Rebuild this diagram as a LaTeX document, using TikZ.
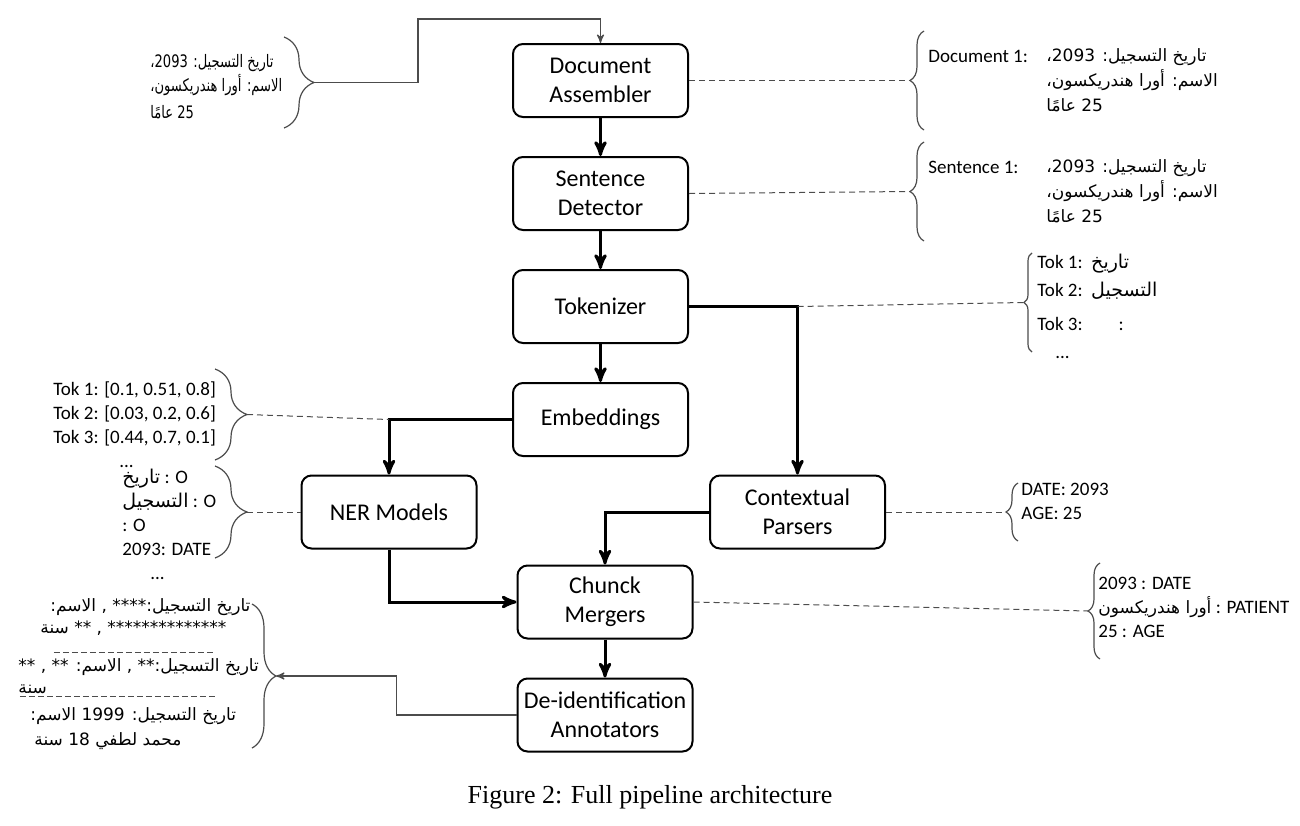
\documentclass[tikz,border=0pt]{standalone}
\usepackage{fontspec}
\setmainfont{Carlito}
\newfontfamily\arabicfont[Script=Arabic]{DejaVu Sans}
\newfontfamily\arabicnarrow[Script=Arabic, FakeStretch=0.76]{DejaVu Sans}
\newfontfamily\captionfont{Liberation Serif}
\TeXXeTstate=1
\setlength{\lineskiplimit}{-20pt}
\usetikzlibrary{arrows,calc,positioning,decorations.pathreplacing}
\newcommand{\rtl}[1]{{\beginR #1\endR}}
\newcommand{\ar}[1]{{\arabicfont #1}}
\newcommand{\sepline}[1]{\hbox to #1{\color{black!70}\leaders\hbox to 4.5pt{\hss\rule[-2pt]{3pt}{0.45pt}\hss}\hfill}}
\tikzset{
  stage/.style = {draw, rounded corners=5pt, line width=1pt, minimum width=87.5pt,
  minimum height=36.5pt, align=center, inner sep=1pt, font=\fontsize{12}{14.5}\selectfont},
  flow/.style = {->, >=stealth', line width=1.5pt},
  feed/.style = {->, >=stealth', line width=0.6pt, draw=black!70},
  link/.style = {dash pattern=on 3pt off 2pt, line width=0.5pt, draw=black!70},
  brc/.style = {decorate, decoration={brace, amplitude=#1}, line width=0.6pt, draw=black!70},
  note/.style = {align=left, inner sep=0pt, font=\fontsize{9.5}{12}\selectfont},
  arnote/.style = {align=left, inner sep=0pt, font=\arabicfont\fontsize{8.5}{12.5}\selectfont}
}

\begin{document}
\begin{tikzpicture}[x=0.5pt, y=-0.5pt]
  \useasboundingbox (0,0) rectangle (1300,825);

  % pipeline stages
  \node[stage] (doc) at (600.5,80.5) {Document\\Assembler};
  \node[stage, below=19pt of doc] (sent) {Sentence\\Detector};
  \node[stage, below=19pt of sent] (tok) {Tokenizer};
  \node[stage, below=19pt of tok] (emb) {Embeddings};
  \node[stage] (ner) at (389,512) {NER Models};
  \node[stage] (ctx) at (797.5,512) {Contextual\\Parsers};
  \node[stage] (chunk) at (605,602) {Chunck\\Mergers};
  \node[stage, below=19pt of chunk] (deid) {De-identification\\Annotators};

  \draw[flow] (doc) -- (sent);
  \draw[flow] (sent) -- (tok);
  \draw[flow] (tok) -- (emb);
  \draw[flow] (emb.west) -| (ner.north);
  \draw[flow] (tok.east) -| (ctx.north);
  \draw[flow] (ctx.west) -| (chunk.north);
  \draw[flow] (ner.south) |- (chunk.west);
  \draw[flow] (chunk) -- (deid);

  % input text
  \node[arnote, anchor=north west, font=\arabicnarrow\fontsize{8.6}{12}\selectfont] (inTxt) at (150,54)
    {\rtl{تاريخ التسجيل: 2093،}\\\rtl{الاسم: أورا هندريكسون،}\\[1.5pt]\rtl{25 عامًا}};
  \draw[brc=15pt] (284,37) -- (284,128);
  \coordinate (inTip) at (314,82.5);
  \draw[feed] (inTip) -- ++(104,0) |- ([yshift=12pt]doc.north) -- (doc.north);

  % document
  \node[note, anchor=west] (docLbl) at (928,56) {Document 1:};
  \node[arnote, anchor=north west] (docTxt) at (1046,48)
    {\rtl{تاريخ التسجيل: 2093،}\\\rtl{الاسم: أورا هندريكسون،}\\\rtl{25 عامًا}};
  \draw[brc=7pt] (924,130) -- (924,31);
  \coordinate (docTip) at (910,80.5);
  \draw[link] (doc.east) -- (docTip);

  % sentence
  \node[note, anchor=west] (sentLbl) at (928,167) {Sentence 1:};
  \node[arnote, anchor=north west] (sentTxt) at (1046,159)
    {\rtl{تاريخ التسجيل: 2093،}\\\rtl{الاسم: أورا هندريكسون،}\\\rtl{25 عامًا}};
  \draw[brc=7pt] (924,241) -- (924,142);
  \coordinate (sentTip) at (910,191.5);
  \draw[link] (sent.east) -- (sentTip);

  % tokens
  \node[note, anchor=north west, font=\fontsize{9.5}{14}\selectfont] (tokTxt) at (1037,254)
    {Tok 1:\ \ \ar{تاريخ}\\Tok 2:\ \ \ar{التسجيل}\\[3pt]Tok 3:\hspace{18pt}:\\\hspace{9pt}...};
  \draw[brc=4pt] (1032,352) -- (1032,253);
  \coordinate (tokTip) at (1024,302.5);
  \draw[link] (tok.east -| ctx.north) -- (tokTip);

  % embeddings
  \node[note, anchor=north west] (embTxt) at (53,381)
    {Tok 1: [0.1, 0.51, 0.8]\\Tok 2: [0.03, 0.2, 0.6]\\Tok 3: [0.44, 0.7, 0.1]\\\hspace{33pt}...};
  \draw[brc=16pt] (215,369) -- (215,460);
  \coordinate (embTip) at (247,414.5);
  \draw[link] (embTip) -- (ner.north |- emb.west);

  % ner tags
  \node[note, anchor=north west] (nerTxt) at (122,469)
    {\ar{تاريخ} : O\\\ar{التسجيل} : O\\: O\\2093: DATE\\\hspace{14pt}...};
  \draw[brc=16pt] (215,466) -- (215,558);
  \coordinate (nerTip) at (247,512);
  \draw[link] (nerTip) -- (ner.west);

  % contextual parsers
  \node[note, anchor=north west] (ctxTxt) at (1021,483) {DATE: 2093\\AGE: 25};
  \draw[brc=6pt] (1018,541) -- (1018,483);
  \coordinate (ctxTip) at (1006,512);
  \draw[link] (ctx.east) -- (ctxTip);

  % merged chunks
  \node[note, anchor=north west] (chunkTxt) at (1098,577)
    {2093 : DATE\\{\arabicfont\fontsize{8.5}{12}\selectfont\rtl{أورا هندريكسون}} : PATIENT\\25 : AGE};
  \draw[brc=6pt] (1100,659) -- (1100,563);
  \coordinate (chunkTip) at (1088,611);
  \draw[link] (chunk.east) -- (chunkTip);

  % output
  \node[arnote, anchor=north west, font=\arabicfont\fontsize{8.5}{11}\selectfont]
    (outTxt) at (18,598)
    {\hspace{16pt}\rtl{تاريخ التسجيل:**** , الاسم:}\\
     \hspace{11pt}\rtl{************** , ** سنة}\\[-3pt]
     \hspace{17pt}\sepline{85pt}\\
     \rtl{تاريخ التسجيل:** , الاسم: ** , **}\\
     \rlap{\sepline{101pt}}سنة\\[2.5pt]
     \hspace{6pt}\rtl{تاريخ التسجيل: 1999 الاسم:}\\[1.5pt]
     \hspace{8pt}\rtl{محمد لطفي 18 سنة}};
  \draw[brc=12pt] (252,604) -- (252,748);
  \coordinate (outTip) at (276,676);
  \draw[feed] (deid.west) -- ++(-120,0) |- (outTip);

  \node[font=\captionfont\fontsize{13}{15}\selectfont] (cap) at (650,797)
    {Figure 2: Full pipeline architecture};
\end{tikzpicture}
\end{document}
